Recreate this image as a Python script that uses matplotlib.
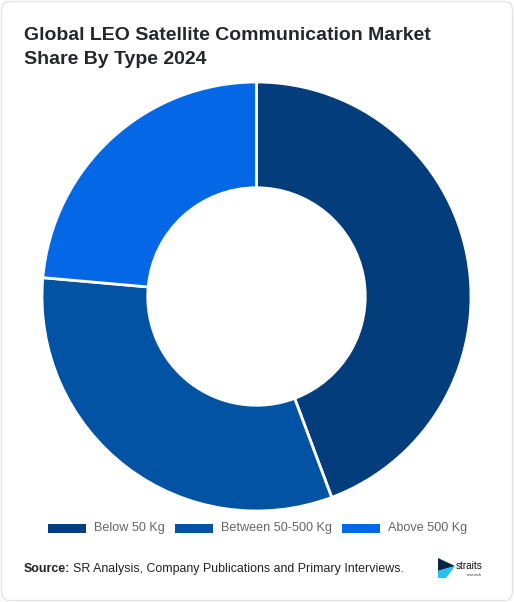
import matplotlib
matplotlib.use("Agg")
import matplotlib.pyplot as plt
from matplotlib.patches import FancyBboxPatch, Rectangle, Polygon

categories = ["Below 50 Kg", "Between 50-500 Kg", "Above 500 Kg"]
shares = [44.3, 32.1, 23.6]
colors = ["#033d7b", "#0353a4", "#0468e6"]

W, H = 514, 602
fig = plt.figure(figsize=(W / 100, H / 100), dpi=100)
fig.patch.set_facecolor("white")

# card border (kept behind the axes)
card = FancyBboxPatch((1.5 / W, 1.5 / H), (W - 3) / W, (H - 3) / H,
                      boxstyle="round,pad=0,rounding_size=0.015",
                      transform=fig.transFigure, facecolor="white",
                      edgecolor="#e4e4e4", linewidth=1, zorder=-5)
fig.patches.append(card)

plt.rcParams["font.family"] = ["Liberation Sans", "DejaVu Sans"]

title_lines = ["Global LEO Satellite Communication Market", "Share By Type 2024"]
for yb, line in zip([40, 64], title_lines):
    fig.text(24 / W, 1 - yb / H, line, fontsize=14, color="#25272b",
             va="baseline", ha="left", fontweight="bold")

# donut
cx, cy, r = 256.5, 296.5, 214.5
ax = fig.add_axes([(cx - r) / W, (H - cy - r) / H, 2 * r / W, 2 * r / H])
ax.pie(shares, colors=colors, startangle=90, counterclock=False, radius=1,
       wedgeprops=dict(width=0.493, edgecolor="white", linewidth=2))
ax.set_xlim(-1, 1)
ax.set_ylim(-1, 1)
ax.set_aspect("equal")
ax.axis("off")

# legend
legend_x = [48, 175, 342]
ly = 528
for x0, lab, col in zip(legend_x, categories, colors):
    fig.patches.append(Rectangle((x0 / W, (H - ly - 4.5) / H), 38 / W, 9 / H,
                                 transform=fig.transFigure, facecolor=col, edgecolor="none"))
    fig.text((x0 + 46) / W, 1 - ly / H, lab, fontsize=9.1, color="#666666",
             va="center", ha="left")

# source line
t = fig.text(24 / W, 1 - 569 / H, "Source:", fontsize=8.9, color="#222222",
             va="center", ha="left", fontweight="bold")
fig.canvas.draw()
bb = t.get_window_extent()
fig.text((bb.x1 + 3) / W, 1 - 569 / H,
         "SR Analysis, Company Publications and Primary Interviews.",
         fontsize=8.9, color="#222222", va="center", ha="left")

# logo
fig.patches.append(Polygon([[438 / W, 1 - 558 / H], [455 / W, 1 - 566 / H], [438 / W, 1 - 571 / H]],
                           closed=True, transform=fig.transFigure, facecolor="#0b2545", edgecolor="none"))
fig.patches.append(Polygon([[438 / W, 1 - 571 / H], [455 / W, 1 - 566 / H], [446 / W, 1 - 578 / H],
                            [438 / W, 1 - 578 / H]],
                           closed=True, transform=fig.transFigure, facecolor="#22c1f0", edgecolor="none"))
fig.text(456 / W, 1 - 566 / H, "straits", fontsize=7.2, color="#111111", va="center", ha="left")
fig.text(467 / W, 1 - 575 / H, "research", fontsize=2.8, color="#333333", va="center", ha="left")

fig.savefig("out.png", dpi=100, facecolor="white")
